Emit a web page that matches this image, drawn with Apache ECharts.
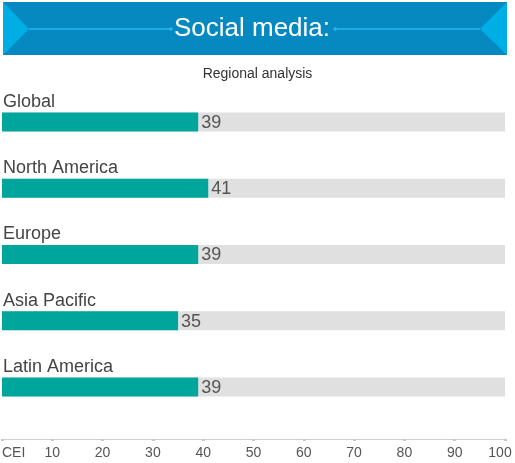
<!DOCTYPE html>
<html>
<head>
<meta charset="utf-8">
<script src="https://cdn.jsdelivr.net/npm/echarts@6/dist/echarts.min.js"></script>
<style>
html, body { margin: 0; padding: 0; background: #fff; }
#main { width: 515px; height: 463px; }
</style>
</head>
<body>
<div id="main"></div>
<script>
// data
var regions = ['Global', 'North America', 'Europe', 'Asia Pacific', 'Latin America'];
var scores = [39, 41, 39, 35, 39];
var axisMax = 100;
var axisStep = 10;
var titleText = 'Social media:';
var subText = 'Regional analysis';

var font = 'Liberation Sans';

var myChart = echarts.init(document.getElementById('main'));
var option = {
    animation: false,
    textStyle: { fontFamily: font },
    title: {
        text: subText,
        left: 'center',
        top: 62,
        textStyle: { fontSize: 14, fontWeight: 'normal', color: '#333', fontFamily: font }
    },
    graphic: [
        // header band
        { type: 'rect', shape: { x: 3, y: 2, width: 504, height: 53 }, style: { fill: '#0689c1' }, z: 0 },
        { type: 'polygon', shape: { points: [[3, 2], [29, 29], [3, 55]] }, style: { fill: '#00aee6' }, z: 1 },
        { type: 'polygon', shape: { points: [[507, 2], [480, 29], [507, 55]] }, style: { fill: '#00aee6' }, z: 1 },
        { type: 'line', shape: { x1: 29, y1: 29, x2: 171, y2: 29 }, style: { stroke: '#25b7ec', lineWidth: 1.5 }, z: 1 },
        { type: 'line', shape: { x1: 335, y1: 29, x2: 480, y2: 29 }, style: { stroke: '#25b7ec', lineWidth: 1.5 }, z: 1 },
        { type: 'circle', shape: { cx: 171, cy: 29, r: 1.8 }, style: { fill: '#25b7ec' }, z: 1 },
        { type: 'circle', shape: { cx: 335, cy: 29, r: 1.8 }, style: { fill: '#25b7ec' }, z: 1 },
        {
            type: 'text', x: 252, y: 29, z: 2,
            style: {
                text: titleText, fill: '#fff', font: '300 26px ' + font,
                textAlign: 'center', textVerticalAlign: 'middle'
            }
        }
    ],
    grid: { left: 2, right: 10, top: 89, height: 331, outerBoundsMode: 'none', containLabel: false },
    xAxis: {
        type: 'value',
        min: 0,
        max: axisMax,
        interval: axisStep,
        offset: 19,
        splitLine: { show: false },
        axisLine: { show: true, lineStyle: { color: '#cfcfcf', width: 1 } },
        axisTick: { show: true, length: 2, lineStyle: { color: '#c8c8c8', width: 3 } },
        axisLabel: {
            margin: 7,
            fontSize: 14,
            color: '#555',
            alignMinLabel: 'left',
            formatter: function (v) {
                if (v === 0) return 'CEI';
                if (v === axisMax) return '{last|' + v + '}';
                return v;
            },
            rich: {
                last: { fontSize: 14, color: '#555', padding: [0, 10, 0, 0] }
            }
        }
    },
    yAxis: {
        type: 'category',
        data: regions,
        inverse: true,
        axisLine: { show: false },
        axisTick: { show: false },
        axisLabel: {
            inside: true,
            margin: 1,
            align: 'left',
            verticalAlign: 'bottom',
            padding: [0, 0, 11, 0],
            fontSize: 18,
            color: '#444'
        }
    },
    series: [{
        type: 'bar',
        data: scores,
        barWidth: 19,
        showBackground: true,
        backgroundStyle: { color: '#e0e0e0' },
        itemStyle: { color: '#00a59c' },
        label: {
            show: true,
            position: 'right',
            distance: 3,
            fontSize: 18,
            color: '#555',
            offset: [0, 1]
        },
        z: 3
    }]
};
myChart.setOption(option);
window.onresize = function () { myChart.resize(); };
</script>
</body>
</html>
